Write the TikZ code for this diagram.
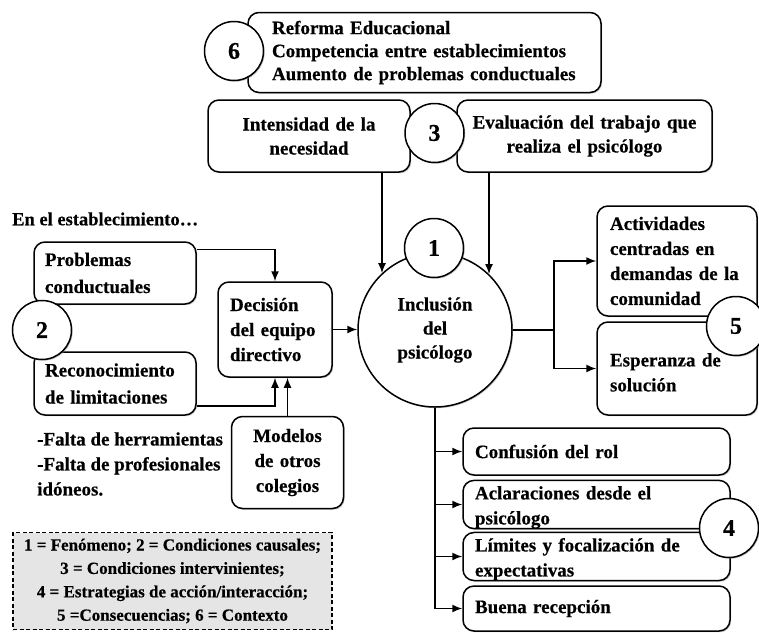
\documentclass[tikz,border=0pt]{standalone}
\usepackage{fontspec}
\setmainfont{Liberation Serif}[BoldFeatures={FakeBold=0.5}]
\usetikzlibrary{arrows.meta,shadows}
\newcommand\dgfont[1]{\fontsize{19}{#1}\selectfont\bfseries}
\newcommand\dgstrut[1]{\rule{0pt}{#1}}
\begin{document}
\begin{tikzpicture}[x=1pt,y=-1pt,
  box/.style={draw, line width=1.5pt, rounded corners=11pt, fill=white, inner sep=0pt,
    drop shadow={shadow xshift=1.2pt, shadow yshift=-1.2pt, fill=black!45}},
  circ/.style={draw, circle, line width=1.5pt, fill=white, inner sep=0pt,
    minimum size=59pt, font=\fontsize{24}{24}\selectfont\bfseries,
    drop shadow={shadow xshift=1.2pt, shadow yshift=-1.2pt, fill=black!45}},
  arr/.style={line width=1.5pt, -{Latex[length=10pt,width=8pt]}},
  lbox/.style={box, align=left},
  cbox/.style={box, align=center}]
\useasboundingbox (0,0) rectangle (759,632);

% Context (6)
\node[lbox, minimum width=353pt, minimum height=80pt, text width=305pt, font=\dgfont{23}]
  (ctx) at (424.5,52.5) {Reforma Educacional\\Competencia entre establecimientos\\Aumento de problemas conductuales};

% Intervening conditions (3)
\node[cbox, minimum width=202pt, minimum height=72pt, text width=192pt, font=\dgfont{24}]
  (int) at (309,136) {Intensidad de la\\necesidad};
\node[cbox, minimum width=255pt, minimum height=72pt, text width=252pt, font=\dgfont{24}]
  (eval) at (584.5,136) {Evaluación del trabajo que\\realiza el psicólogo};

% Phenomenon (1)
\node[draw, circle, line width=1.5pt, fill=white, inner sep=0pt, minimum size=154pt,
  align=center, font=\dgfont{24},
  drop shadow={shadow xshift=1.2pt, shadow yshift=-1.2pt, fill=black!45}]
  (inc) at (435,330) {Inclusión\\del\\psicólogo};

% Consequences (5)
\node[lbox, minimum width=160pt, minimum height=110pt, text width=134pt, font=\dgfont{25}]
  (act) at (677,261) {Actividades\\centradas en\\demandas de la\\comunidad};
\node[lbox, minimum width=160pt, minimum height=93pt, text width=134pt, font=\dgfont{25}]
  (esp) at (677,368.5) {\dgstrut{21pt}Esperanza de\\solución};

% Strategies (4)
\node[lbox, minimum width=267pt, minimum height=47pt, text width=243pt, font=\dgfont{25}]
  (conf) at (596.5,451.5) {Confusión del rol};
\node[lbox, minimum width=267pt, minimum height=47pt, text width=243pt, font=\dgfont{25}]
  (acl) at (596.5,504.5) {\dgstrut{19pt}Aclaraciones desde el\\psicólogo};
\node[lbox, minimum width=267pt, minimum height=47pt, text width=243pt, font=\dgfont{25}]
  (lim) at (596.5,556.5) {\dgstrut{19pt}Límites y focalización de\\expectativas};
\node[lbox, minimum width=267pt, minimum height=45pt, text width=243pt, font=\dgfont{25}]
  (buena) at (596.5,608.5) {Buena recepción};

% Causal conditions (2)
\node[anchor=west, inner sep=0pt, font=\fontsize{18.5}{24}\selectfont\bfseries] (est) at (12,219) {En el establecimiento…};
\node[lbox, minimum width=162pt, minimum height=62pt, text width=140pt, font=\dgfont{27}]
  (prob) at (115,273) {Problemas\\conductuales};
\node[lbox, minimum width=162pt, minimum height=63pt, text width=140pt, font=\dgfont{27}]
  (rec) at (115,383.5) {Reconocimiento\\de limitaciones};
\node[lbox, minimum width=114pt, minimum height=95pt, text width=90pt, font=\dgfont{25}]
  (dec) at (275,329.5) {Decisión\\del equipo\\directivo};
\node[cbox, minimum width=112pt, minimum height=92pt, text width=104pt, font=\dgfont{25}]
  (mod) at (287.5,462.5) {Modelos\\de otros\\colegios};
\node[anchor=west, align=left, inner sep=0pt, font=\dgfont{25}]
  (falta) at (37,464) {-Falta de herramientas\\-Falta de profesionales\\idóneos.};

% Legend
\node[draw, dash pattern=on 4pt off 2.5pt, line width=1.5pt, fill=black!10, inner sep=0pt,
  minimum width=319pt, minimum height=97pt, align=center,
  font=\fontsize{17}{23.4}\selectfont\bfseries]
  (leg) at (172.5,581) {1 = Fenómeno; 2 = Condiciones causales;\\3 = Condiciones intervinientes;\\4 = Estrategias de acción/interacción;\\5 =Consecuencias; 6 = Contexto};

% Numbered circles
\node[circ] (c6) at (234,51) {6};
\node[circ] (c3) at (434.5,133) {3};
\node[circ] (c1) at (434,248) {1};
\node[circ] (c5) at (736,326) {5};
\node[circ] (c4) at (729,528) {4};
\node[circ] (c2) at (42,330) {2};

% Connectors
\draw[arr] (int.south -| inc.133.5) -- (inc.133.5);
\draw[arr] (eval.south -| inc.46.5) -- (inc.46.5);
\draw[arr] ([yshift=-8pt]prob.north east) -| (dec.north);
\draw[arr] ([yshift=10pt]rec.south east) -| (dec.south);
\draw[arr] (mod.north) -- (mod.north |- dec.south);
\draw[arr] (dec.east) -- (dec.east -| inc.west);
\draw[arr] (inc.east) -- ++(41,0) |- (act.west);
\draw[arr] (inc.east) -- ++(41,0) |- (esp.west);
\draw[arr] (inc.south) |- (conf.west);
\draw[arr] (inc.south) |- (acl.west);
\draw[arr] (inc.south) |- (lim.west);
\draw[arr] (inc.south) |- (buena.west);
\end{tikzpicture}
\end{document}
